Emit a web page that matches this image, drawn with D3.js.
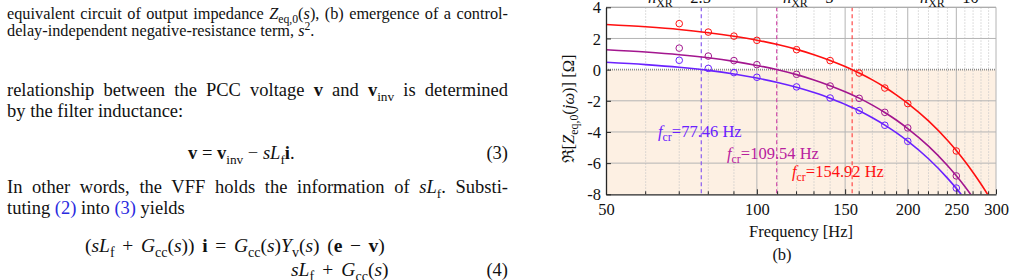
<!DOCTYPE html>
<html>
<head>
<meta charset="utf-8">
<script src="https://cdn.jsdelivr.net/npm/d3@7"></script>
<style>
body { margin: 0; background: #fff; }
svg { display: block; font-family: "Liberation Serif", "Times New Roman", serif; }
svg text { font-family: "Liberation Serif", "Times New Roman", serif; }
</style>
</head>
<body>
<svg id="page" width="1015" height="280"></svg>
<script>
var lineFreq   = [50, 60, 70, 80, 90, 100, 110, 120, 130, 140, 150, 160, 170, 180, 190, 200, 220, 240, 250, 260, 270, 280, 290];
var redLine    = [2.90, 2.75, 2.58, 2.37, 2.14, 1.89, 1.61, 1.30, 0.96, 0.59, 0.20, -0.22, -0.66, -1.13, -1.63, -2.16, -3.29, -4.53, -5.19, -5.88, -6.60, -7.34, -8.11];
var purpleLine = [1.28, 1.13, 0.96, 0.76, 0.53, 0.27, -0.01, -0.32, -0.66, -1.03, -1.42, -1.83, -2.28, -2.75, -3.25, -3.78, -4.91, -6.15, -6.81, -7.50, -8.22, null, null];
var blueLine   = [0.47, 0.32, 0.15, -0.05, -0.28, -0.54, -0.82, -1.13, -1.47, -1.83, -2.23, -2.64, -3.09, -3.56, -4.06, -4.59, -5.72, -6.96, -7.62, -8.31, null, null, null];

// Circle markers (measured points)
var pointFreq    = [70, 80, 90, 100, 120, 140, 160, 180, 200, 250];
var redPoints    = [2.95, 2.41, 2.15, 1.88, 1.28, 0.58, -0.22, -1.18, -2.18, -5.22];
var purplePoints = [1.38, 0.87, 0.58, 0.32, -0.30, -1.05, -1.84, -2.74, -3.74, -6.82];
var bluePoints   = [0.60, 0.08, -0.19, -0.49, -1.11, -1.82, -2.63, -3.57, -4.60, -7.60];

// Crossover frequencies and labels
var crossFreq  = [77.46, 109.54, 154.92];
var crossLabel = ["77.46 Hz", "109.54 Hz", "154.92 Hz"];
var nxrLabel   = ["2.5", "5", "10"];

var xTicks = [50, 100, 150, 200, 250, 300];
var xMinor = [60, 70, 80, 90, 110, 120, 130, 140, 160, 170, 180, 190, 210, 220, 230, 240, 260, 270, 280, 290];
var yTicks = [4, 2, 0, -2, -4, -6, -8];

var colors = { red: "#ff1010", purple: "#a3168f", blue: "#6a22ff" };
var dashColors = ["#8a5cf0", "#cf4aa8", "#ff4a4a"];

var svg = d3.select("#page");

// ---------- text helper: segments of [text, style] ----------
function addText(g, x, y, segs, opts) {
    opts = opts || {};
    var size = opts.size || 18.5;
    var t = g.append("text")
        .attr("x", x).attr("y", y)
        .attr("font-size", size)
        .attr("fill", opts.color || "#111");
    if (opts.anchor) t.attr("text-anchor", opts.anchor);
    var shift = 0;
    segs.forEach(function(s) {
        var sp = t.append("tspan").text(s[0]);
        var style = s[1] || "";
        var want = 0;
        if (style === "i") sp.attr("font-style", "italic");
        if (style === "b") sp.attr("font-weight", "bold");
        if (style === "link") sp.attr("fill", "#2a2ae0");
        if (style === "sub") { want = size * 0.25; sp.attr("font-size", size * 0.72); }
        if (style === "sup") { want = -size * 0.38; sp.attr("font-size", size * 0.72); }
        if (want !== shift) { sp.attr("dy", want - shift); shift = want; }
    });
    if (opts.justify) {
        var natural = t.node().getComputedTextLength();
        var n = (t.text().match(/ /g) || []).length;
        if (n > 0) t.attr("word-spacing", (opts.justify - natural) / n);
    }
    return t;
}

// ---------- left column text ----------
var page = svg.append("g");
addText(page, 7, 19, [["equivalent circuit of output impedance "], ["Z", "i"], ["eq,0", "sub"], ["("], ["s", "i"], ["), (b) emergence of a control-"]], { size: 16.3, justify: 501 });
addText(page, 7, 36, [["delay-independent negative-resistance term, "], ["s", "i"], ["2", "sup"], ["."]], { size: 16.3 });

addText(page, 7, 96, [["relationship between the PCC voltage "], ["v", "b"], [" and "], ["v", "b"], ["inv", "sub"], [" is determined"]], { justify: 501 });
addText(page, 7, 117, [["by the filter inductance:"]]);
addText(page, 188, 159, [["v", "b"], [" = "], ["v", "b"], ["inv", "sub"], [" − "], ["sL", "i"], ["f", "sub"], ["i", "b"], ["."]]);
addText(page, 508, 159, [["(3)"]], { anchor: "end" });

addText(page, 7, 193, [["In other words, the VFF holds the information of "], ["sL", "i"], ["f", "sub"], [". Substi-"]], { justify: 501 });
addText(page, 7, 214, [["tuting "], ["(2)", "link"], [" into "], ["(3)", "link"], [" yields"]]);
addText(page, 85, 252, [["("], ["sL", "i"], ["f", "sub"], ["  +  "], ["G", "i"], ["cc", "sub"], ["("], ["s", "i"], ["))  "], ["i", "b"], ["  =  "], ["G", "i"], ["cc", "sub"], ["("], ["s", "i"], [")"], ["Y", "i"], ["v", "sub"], ["("], ["s", "i"], [")  ("], ["e", "b"], ["  −  "], ["v", "b"], [")"]], { size: 19.5, justify: 322 });
addText(page, 291, 276, [["sL", "i"], ["f", "sub"], ["  +  "], ["G", "i"], ["cc", "sub"], ["("], ["s", "i"], [")"]], { size: 19.5, justify: 104 });
addText(page, 508, 276, [["(4)"]], { anchor: "end" });

// ---------- chart ----------
var plot = { left: 606, right: 996, top: 7.3, bottom: 194.3 };
var fs = 16.5;

var x = d3.scaleLog().domain([50, 300]).range([plot.left, plot.right]);
var y = d3.scaleLinear().domain([-8, 4]).range([plot.bottom, plot.top]);

var chart = svg.append("g");

chart.append("clipPath").attr("id", "clip")
    .append("rect")
    .attr("x", plot.left).attr("y", plot.top)
    .attr("width", plot.right - plot.left).attr("height", plot.bottom - plot.top);

// shaded negative-resistance region
chart.append("rect")
    .attr("x", x(50)).attr("y", y(0))
    .attr("width", x(300) - x(50)).attr("height", y(-8) - y(0))
    .attr("fill", "#fdf0e3");

// minor vertical grid
chart.selectAll(".minor").data(xMinor).enter().append("line")
    .attr("x1", function(d) { return x(d); }).attr("x2", function(d) { return x(d); })
    .attr("y1", plot.top).attr("y2", plot.bottom)
    .attr("stroke", "#c8c8c8").attr("stroke-width", 0.8)
    .attr("stroke-dasharray", "1.5,1.5");

// major grid
chart.selectAll(".vmajor").data(xTicks.slice(1)).enter().append("line")
    .attr("x1", function(d) { return x(d); }).attr("x2", function(d) { return x(d); })
    .attr("y1", plot.top).attr("y2", plot.bottom)
    .attr("stroke", "#b4b4b4").attr("stroke-width", 1);

chart.selectAll(".hmajor").data(yTicks.filter(function(d) { return d !== 0 && d !== -8; })).enter().append("line")
    .attr("x1", plot.left).attr("x2", plot.right)
    .attr("y1", function(d) { return y(d); }).attr("y2", function(d) { return y(d); })
    .attr("stroke", "#b4b4b4").attr("stroke-width", 1);

// zero line
chart.append("line")
    .attr("x1", plot.left).attr("x2", plot.right)
    .attr("y1", y(0)).attr("y2", y(0))
    .attr("stroke", "#8c8c8c").attr("stroke-width", 1.8)
    .attr("stroke-dasharray", "1,1");

// crossover dashed lines
chart.selectAll(".cross").data(crossFreq).enter().append("line")
    .attr("x1", function(d) { return x(d); }).attr("x2", function(d) { return x(d); })
    .attr("y1", plot.top).attr("y2", plot.bottom)
    .attr("stroke", function(d, i) { return dashColors[i]; })
    .attr("stroke-width", 1.2)
    .attr("stroke-dasharray", "4,3");

// curves
var series = [
    { line: blueLine, pts: bluePoints, color: colors.blue },
    { line: purpleLine, pts: purplePoints, color: colors.purple },
    { line: redLine, pts: redPoints, color: colors.red }
];

var lineGen = d3.line()
    .defined(function(d) { return d[1] !== null; })
    .x(function(d) { return x(d[0]); })
    .y(function(d) { return y(d[1]); })
    .curve(d3.curveMonotoneX);

var curves = chart.append("g").attr("clip-path", "url(#clip)");
series.forEach(function(s) {
    curves.append("path")
        .datum(lineFreq.map(function(f, i) { return [f, s.line[i]]; }))
        .attr("d", lineGen)
        .attr("fill", "none")
        .attr("stroke", s.color)
        .attr("stroke-width", 1.6);
    curves.selectAll(null)
        .data(pointFreq.map(function(f, i) { return [f, s.pts[i]]; }))
        .enter().append("circle")
        .attr("cx", function(d) { return x(d[0]); })
        .attr("cy", function(d) { return y(d[1]); })
        .attr("r", 3.3)
        .attr("fill", "none")
        .attr("stroke", s.color)
        .attr("stroke-width", 1);
});

// top border (grey)
chart.append("line").attr("x1", plot.left).attr("x2", plot.right)
    .attr("y1", plot.top).attr("y2", plot.top)
    .attr("stroke", "#a8a8a8").attr("stroke-width", 1);

// axes
var xAxis = d3.axisBottom(x).tickValues(xTicks).tickFormat(d3.format("d")).tickSizeInner(-5).tickSizeOuter(0).tickPadding(9);
var xAxisG = chart.append("g")
    .attr("transform", "translate(0," + plot.bottom + ")")
    .call(xAxis);
xAxisG.selectAll(".minor-tick").data(xMinor).enter().append("line")
    .attr("x1", function(d) { return x(d); }).attr("x2", function(d) { return x(d); })
    .attr("y1", 0).attr("y2", -3)
    .attr("stroke", "#262626");

var yAxis = d3.axisLeft(y).tickValues(yTicks).tickFormat(function(d) { return String(d); })
    .tickSizeInner(-5).tickSizeOuter(0).tickPadding(5);
var yAxisG = chart.append("g")
    .attr("transform", "translate(" + plot.left + ",0)")
    .call(yAxis);

[xAxisG, yAxisG].forEach(function(g) {
    g.attr("font-family", null).attr("font-size", null);
    g.select(".domain").attr("stroke", "#262626").attr("stroke-width", 1.3);
    g.selectAll(".tick line").attr("stroke", "#262626");
    g.selectAll("text")
        .style("font-family", "'Liberation Serif', serif")
        .style("font-size", fs + "px")
        .attr("fill", "#111");
});
yAxisG.selectAll("text").attr("dy", "0.34em");

// axis labels
addText(chart, 801, 237, [["Frequency [Hz]"]], { size: fs, anchor: "middle" });
addText(chart, 782, 260, [["(b)"]], { size: fs, anchor: "middle" });

var yl = chart.append("g").attr("transform", "translate(574,109) rotate(-90)");
addText(yl, 0, 0, [["ℜ["], ["Z", "i"], ["eq,0", "sub"], ["("], ["jω", "i"], [")] [Ω]"]], { size: fs, anchor: "middle" });

// crossover labels
var labelPos = [[658, 137], [727, 159], [792, 177]];
var labelColors = [colors.blue, "#b8209e", colors.red];
crossLabel.forEach(function(lab, i) {
    addText(chart, labelPos[i][0], labelPos[i][1], [["f", "i"], ["cr", "sub"], ["=" + lab]], { size: fs, color: labelColors[i] });
});

// n_XR labels at the top (partly cut off)
var nxrPos = [648, 783, 920];
nxrLabel.forEach(function(lab, i) {
    addText(chart, nxrPos[i], 3, [["n", "i"], ["XR", "sub"], [" = " + lab]], { size: fs });
});
</script>
</body>
</html>
